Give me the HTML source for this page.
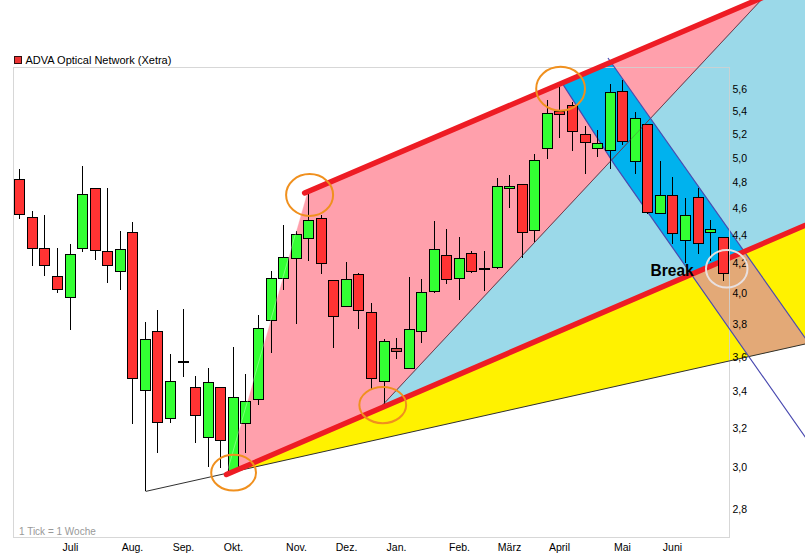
<!DOCTYPE html>
<html><head><meta charset="utf-8"><style>
html,body{margin:0;padding:0;background:#fff;width:805px;height:560px;overflow:hidden}
svg{display:block}
text{font-family:"Liberation Sans",sans-serif}
</style></head><body>
<svg width="805" height="560" viewBox="0 0 805 560">
<rect width="805" height="560" fill="#fff"/>
<polygon points="226.40,474.56 307.50,191.85 764.00,-3.08 379.03,408.84" fill="#FFA0AC"/>
<polygon points="379.03,408.84 779.81,-20.00 820.00,-20.00 820.00,218.96" fill="#9BD9E9"/>
<polygon points="226.40,474.56 820.00,218.96 820.00,340.69 226.40,473.36" fill="#FFF200"/>
<polygon points="562.12,83.13 610.96,62.27 744.27,251.57 691.31,274.37 615,165.4" fill="#00B2EE"/>
<polygon points="691.31,274.37 744.27,251.57 808.80,343.20 748.89,356.59" fill="#E3A977"/>
<rect x="13.5" y="67.5" width="716" height="470" fill="none" stroke="#D0D0D0" stroke-opacity="0.85" stroke-width="1"/>
<line x1="145.7" y1="491.4" x2="820" y2="340.69" stroke="#303030" stroke-width="1"/>
<line x1="379.03" y1="408.84" x2="764.00" y2="-3.08" stroke="#704050" stroke-width="1"/>
<polyline points="562.12,83.13 615,165.4 820,458.14" fill="none" stroke="#4A4AB0" stroke-width="1.2"/>
<line x1="607.96" y1="58" x2="820" y2="359.10" stroke="#4A4AB0" stroke-width="1.2"/>
<g stroke="#000" stroke-width="1" shape-rendering="crispEdges">
<line x1="19.5" y1="169" x2="19.5" y2="179"/>
<line x1="19.5" y1="214" x2="19.5" y2="219"/>
<rect x="14.5" y="179" width="10" height="35" fill="#FF3333"/>
<line x1="32.5" y1="211" x2="32.5" y2="217.5"/>
<line x1="32.5" y1="248" x2="32.5" y2="265.5"/>
<rect x="27.5" y="217.5" width="10" height="30.5" fill="#FF3333"/>
<line x1="44.5" y1="215" x2="44.5" y2="248"/>
<line x1="44.5" y1="265.5" x2="44.5" y2="275.5"/>
<rect x="39.5" y="248" width="10" height="17.5" fill="#FF3333"/>
<line x1="57.5" y1="248" x2="57.5" y2="276"/>
<line x1="57.5" y1="289.5" x2="57.5" y2="292.5"/>
<rect x="52.5" y="276" width="10" height="13.5" fill="#FF3333"/>
<line x1="70.5" y1="244" x2="70.5" y2="254"/>
<line x1="70.5" y1="297.5" x2="70.5" y2="329.5"/>
<rect x="65.5" y="254" width="10" height="43.5" fill="#33FF33"/>
<line x1="82.5" y1="166" x2="82.5" y2="194"/>
<line x1="82.5" y1="248" x2="82.5" y2="251.5"/>
<rect x="77.5" y="194" width="10" height="54" fill="#33FF33"/>
<line x1="95.5" y1="250.5" x2="95.5" y2="259.5"/>
<rect x="90.5" y="188" width="10" height="62.5" fill="#FF3333"/>
<line x1="107.5" y1="188" x2="107.5" y2="251"/>
<line x1="107.5" y1="265.5" x2="107.5" y2="282.5"/>
<rect x="102.5" y="251" width="10" height="14.5" fill="#FF3333"/>
<line x1="120.5" y1="231" x2="120.5" y2="249"/>
<line x1="120.5" y1="271.5" x2="120.5" y2="289.5"/>
<rect x="115.5" y="249" width="10" height="22.5" fill="#33FF33"/>
<line x1="132.5" y1="222" x2="132.5" y2="232.5"/>
<line x1="132.5" y1="378" x2="132.5" y2="423.5"/>
<rect x="127.5" y="232.5" width="10" height="145.5" fill="#FF3333"/>
<line x1="145.5" y1="322" x2="145.5" y2="339.5"/>
<line x1="145.5" y1="390.5" x2="145.5" y2="491.4"/>
<rect x="140.5" y="339.5" width="10" height="51.0" fill="#33FF33"/>
<line x1="157.5" y1="310" x2="157.5" y2="331"/>
<line x1="157.5" y1="422.5" x2="157.5" y2="452.5"/>
<rect x="152.5" y="331" width="10" height="91.5" fill="#FF3333"/>
<line x1="170.5" y1="354" x2="170.5" y2="381"/>
<line x1="170.5" y1="418" x2="170.5" y2="422.5"/>
<rect x="165.5" y="381" width="10" height="37" fill="#33FF33"/>
<line x1="183.5" y1="309" x2="183.5" y2="362"/>
<line x1="183.5" y1="362" x2="183.5" y2="377"/>
<line x1="178.0" y1="362" x2="189.0" y2="362" stroke-width="2"/>
<line x1="195.5" y1="376" x2="195.5" y2="387.5"/>
<line x1="195.5" y1="415.5" x2="195.5" y2="442.5"/>
<rect x="190.5" y="387.5" width="10" height="28.0" fill="#FF3333"/>
<line x1="208.5" y1="368" x2="208.5" y2="382.5"/>
<line x1="208.5" y1="437" x2="208.5" y2="467"/>
<rect x="203.5" y="382.5" width="10" height="54.5" fill="#33FF33"/>
<line x1="220.5" y1="440.5" x2="220.5" y2="467.5"/>
<rect x="215.5" y="387.5" width="10" height="53.0" fill="#FF3333"/>
<line x1="233.5" y1="347" x2="233.5" y2="397.5"/>
<rect x="228.5" y="397.5" width="10" height="73.5" fill="#33FF33"/>
<line x1="245.5" y1="374" x2="245.5" y2="401.75"/>
<line x1="245.5" y1="423" x2="245.5" y2="452.5"/>
<rect x="240.5" y="401.75" width="10" height="21.25" fill="#33FF33"/>
<line x1="258.5" y1="315" x2="258.5" y2="328"/>
<line x1="258.5" y1="399" x2="258.5" y2="404.5"/>
<rect x="253.5" y="328" width="10" height="71" fill="#33FF33"/>
<line x1="271.5" y1="271" x2="271.5" y2="278"/>
<line x1="271.5" y1="320.5" x2="271.5" y2="352.5"/>
<rect x="266.5" y="278" width="10" height="42.5" fill="#33FF33"/>
<line x1="283.5" y1="225" x2="283.5" y2="257.5"/>
<line x1="283.5" y1="278" x2="283.5" y2="289.5"/>
<rect x="278.5" y="257.5" width="10" height="20.5" fill="#33FF33"/>
<line x1="296.5" y1="231" x2="296.5" y2="234.5"/>
<line x1="296.5" y1="258" x2="296.5" y2="323.75"/>
<rect x="291.5" y="234.5" width="10" height="23.5" fill="#33FF33"/>
<line x1="308.5" y1="192.3" x2="308.5" y2="220"/>
<line x1="308.5" y1="238" x2="308.5" y2="260.5"/>
<rect x="303.5" y="220" width="10" height="18" fill="#33FF33"/>
<line x1="321.5" y1="215" x2="321.5" y2="218"/>
<line x1="321.5" y1="263" x2="321.5" y2="273.5"/>
<rect x="316.5" y="218" width="10" height="45" fill="#FF3333"/>
<line x1="333.5" y1="316" x2="333.5" y2="347.9"/>
<rect x="328.5" y="280.4" width="10" height="35.60000000000002" fill="#FF3333"/>
<line x1="346.5" y1="262.3" x2="346.5" y2="279.5"/>
<rect x="341.5" y="279.5" width="10" height="26.69999999999999" fill="#33FF33"/>
<line x1="358.5" y1="273" x2="358.5" y2="274.5"/>
<line x1="358.5" y1="310.2" x2="358.5" y2="328.7"/>
<rect x="353.5" y="274.5" width="10" height="35.69999999999999" fill="#FF3333"/>
<line x1="371.5" y1="303" x2="371.5" y2="312.5"/>
<line x1="371.5" y1="378.25" x2="371.5" y2="388.75"/>
<rect x="366.5" y="312.5" width="10" height="65.75" fill="#FF3333"/>
<line x1="384.5" y1="339" x2="384.5" y2="341.5"/>
<line x1="384.5" y1="381.25" x2="384.5" y2="405"/>
<rect x="379.5" y="341.5" width="10" height="39.75" fill="#33FF33"/>
<line x1="396.5" y1="338" x2="396.5" y2="348.5"/>
<line x1="396.5" y1="351.5" x2="396.5" y2="358.75"/>
<rect x="391.5" y="348.5" width="10" height="3.0" fill="#C85050"/>
<line x1="409.5" y1="277" x2="409.5" y2="329.25"/>
<rect x="404.5" y="329.25" width="10" height="39.0" fill="#33FF33"/>
<line x1="421.5" y1="278.75" x2="421.5" y2="292.5"/>
<line x1="421.5" y1="331.25" x2="421.5" y2="342.5"/>
<rect x="416.5" y="292.5" width="10" height="38.75" fill="#33FF33"/>
<line x1="434.5" y1="221.25" x2="434.5" y2="249.5"/>
<line x1="434.5" y1="291.75" x2="434.5" y2="292.5"/>
<rect x="429.5" y="249.5" width="10" height="42.25" fill="#33FF33"/>
<line x1="446.5" y1="228.75" x2="446.5" y2="255.5"/>
<line x1="446.5" y1="279.25" x2="446.5" y2="283.75"/>
<rect x="441.5" y="255.5" width="10" height="23.75" fill="#FF3333"/>
<line x1="459.5" y1="237" x2="459.5" y2="258.25"/>
<line x1="459.5" y1="278.25" x2="459.5" y2="300"/>
<rect x="454.5" y="258.25" width="10" height="20.0" fill="#33FF33"/>
<line x1="471.5" y1="251.25" x2="471.5" y2="253.25"/>
<line x1="471.5" y1="271.25" x2="471.5" y2="273"/>
<rect x="466.5" y="253.25" width="10" height="18.0" fill="#FF3333"/>
<line x1="484.5" y1="250.75" x2="484.5" y2="268.75"/>
<line x1="484.5" y1="268.75" x2="484.5" y2="290.75"/>
<line x1="479.0" y1="268.75" x2="490.0" y2="268.75" stroke-width="2"/>
<line x1="497.5" y1="177.5" x2="497.5" y2="186.5"/>
<line x1="497.5" y1="267.5" x2="497.5" y2="268.75"/>
<rect x="492.5" y="186.5" width="10" height="81.0" fill="#33FF33"/>
<line x1="509.5" y1="174.5" x2="509.5" y2="186.25"/>
<line x1="509.5" y1="188.25" x2="509.5" y2="207.5"/>
<rect x="504.5" y="186.25" width="10" height="2.0" fill="#33FF33"/>
<line x1="522.5" y1="232.6" x2="522.5" y2="257.8"/>
<rect x="517.5" y="184.6" width="10" height="48.0" fill="#FF3333"/>
<line x1="534.5" y1="154" x2="534.5" y2="160.4"/>
<line x1="534.5" y1="230" x2="534.5" y2="242.4"/>
<rect x="529.5" y="160.4" width="10" height="69.6" fill="#33FF33"/>
<line x1="547.5" y1="100.3" x2="547.5" y2="113.1"/>
<line x1="547.5" y1="148.75" x2="547.5" y2="159.4"/>
<rect x="542.5" y="113.1" width="10" height="35.650000000000006" fill="#33FF33"/>
<line x1="559.5" y1="87.3" x2="559.5" y2="111.5"/>
<line x1="559.5" y1="114.4" x2="559.5" y2="137.5"/>
<rect x="554.5" y="111.5" width="10" height="2.9000000000000057" fill="#FF3333"/>
<line x1="572.5" y1="101.8" x2="572.5" y2="105.5"/>
<line x1="572.5" y1="131.25" x2="572.5" y2="150.5"/>
<rect x="567.5" y="105.5" width="10" height="25.75" fill="#FF3333"/>
<line x1="585.5" y1="126.2" x2="585.5" y2="134.5"/>
<line x1="585.5" y1="142.5" x2="585.5" y2="173.75"/>
<rect x="580.5" y="134.5" width="10" height="8.0" fill="#FF3333"/>
<line x1="597.5" y1="130" x2="597.5" y2="143.75"/>
<line x1="597.5" y1="148.75" x2="597.5" y2="157"/>
<rect x="592.5" y="143.75" width="10" height="5.0" fill="#33FF33"/>
<line x1="610.5" y1="83.75" x2="610.5" y2="92.5"/>
<line x1="610.5" y1="150.5" x2="610.5" y2="168.75"/>
<rect x="605.5" y="92.5" width="10" height="58.0" fill="#33FF33"/>
<line x1="622.5" y1="80" x2="622.5" y2="91.75"/>
<line x1="622.5" y1="141.25" x2="622.5" y2="145"/>
<rect x="617.5" y="91.75" width="10" height="49.5" fill="#FF3333"/>
<line x1="635.5" y1="112" x2="635.5" y2="118.25"/>
<line x1="635.5" y1="161.25" x2="635.5" y2="173.75"/>
<rect x="630.5" y="118.25" width="10" height="43.0" fill="#33FF33"/>
<line x1="647.5" y1="212.1" x2="647.5" y2="214.3"/>
<rect x="642.5" y="124.3" width="10" height="87.8" fill="#FF3333"/>
<line x1="660.5" y1="161.1" x2="660.5" y2="195.4"/>
<rect x="655.5" y="195.4" width="10" height="17.799999999999983" fill="#33FF33"/>
<line x1="672.5" y1="177.2" x2="672.5" y2="195.4"/>
<line x1="672.5" y1="233" x2="672.5" y2="243.75"/>
<rect x="667.5" y="195.4" width="10" height="37.599999999999994" fill="#FF3333"/>
<line x1="685.5" y1="198.2" x2="685.5" y2="215.2"/>
<line x1="685.5" y1="240" x2="685.5" y2="262.5"/>
<rect x="680.5" y="215.2" width="10" height="24.80000000000001" fill="#33FF33"/>
<line x1="698.5" y1="187.5" x2="698.5" y2="197.3"/>
<line x1="698.5" y1="243.1" x2="698.5" y2="254.3"/>
<rect x="693.5" y="197.3" width="10" height="45.79999999999998" fill="#FF3333"/>
<line x1="710.5" y1="220" x2="710.5" y2="229.6"/>
<line x1="710.5" y1="232.9" x2="710.5" y2="261.4"/>
<rect x="705.5" y="229.6" width="10" height="3.3000000000000114" fill="#33FF33"/>
</g>
<line x1="226.40" y1="474.56" x2="307.50" y2="191.85" stroke="#FFFFFF" stroke-opacity="0.35" stroke-width="1"/>
<line x1="379.03" y1="408.84" x2="764.00" y2="-3.08" stroke="#704050" stroke-opacity="0.35" stroke-width="1"/>
<line x1="304.6" y1="192.9" x2="794.00" y2="-15.89" stroke="#EE1C24" stroke-width="5.4" stroke-linecap="round"/>
<line x1="226.4" y1="474.56314" x2="820" y2="218.96" stroke="#EE1C24" stroke-width="5.4" stroke-linecap="round"/>
<line x1="729.5" y1="200" x2="729.5" y2="300" stroke="#D0D0D0" stroke-opacity="0.85" stroke-width="1"/>
<g stroke="#000" stroke-width="1" shape-rendering="crispEdges">
<line x1="723.5" y1="273.3" x2="723.5" y2="281.4"/>
<rect x="718.5" y="237.1" width="10" height="36.20000000000002" fill="#FF3333"/>
</g>
<g font-size="10.5" fill="#000">
<text x="732.5" y="93.0">5,6</text>
<text x="732.5" y="115.0">5,4</text>
<text x="732.5" y="137.9">5,2</text>
<text x="732.5" y="161.6">5,0</text>
<text x="732.5" y="186.4">4,8</text>
<text x="732.5" y="212.2">4,6</text>
<text x="732.5" y="239.1">4,4</text>
<text x="732.5" y="267.3">4,2</text>
<text x="732.5" y="296.9">4,0</text>
<text x="732.5" y="327.9">3,8</text>
<text x="732.5" y="360.7">3,6</text>
<text x="732.5" y="395.3">3,4</text>
<text x="732.5" y="432.1">3,2</text>
<text x="732.5" y="471.2">3,0</text>
<text x="732.5" y="513.0">2,8</text>
</g>
<ellipse cx="233.6" cy="472.7" rx="22.4" ry="17.9" fill="none" stroke="#F0901E" stroke-width="2"/>
<ellipse cx="309.6" cy="195" rx="23.5" ry="20.9" fill="none" stroke="#F0901E" stroke-width="2"/>
<ellipse cx="382.75" cy="405.1" rx="23.4" ry="18.1" fill="none" stroke="#F0901E" stroke-width="2"/>
<ellipse cx="560.6" cy="88.75" rx="24.4" ry="21.9" fill="none" stroke="#F0901E" stroke-width="2"/>
<ellipse cx="726.75" cy="268.75" rx="20.75" ry="18.75" fill="none" stroke="#E8E0E0" stroke-width="2"/>
<rect x="14.5" y="56.5" width="7" height="7" fill="#EE3333" stroke="#301010" stroke-width="1"/>
<text x="25.5" y="64" font-size="11" fill="#000">ADVA Optical Network (Xetra)</text>
<text x="19" y="534.5" font-size="10" fill="#999">1 Tick = 1 Woche</text>
<g font-size="10.5" fill="#000">
<text x="70.5" y="551" text-anchor="middle">Juli</text>
<text x="132.5" y="551" text-anchor="middle">Aug.</text>
<text x="183.5" y="551" text-anchor="middle">Sep.</text>
<text x="233.5" y="551" text-anchor="middle">Okt.</text>
<text x="296.5" y="551" text-anchor="middle">Nov.</text>
<text x="346.5" y="551" text-anchor="middle">Dez.</text>
<text x="396.5" y="551" text-anchor="middle">Jan.</text>
<text x="459.5" y="551" text-anchor="middle">Feb.</text>
<text x="509.5" y="551" text-anchor="middle">März</text>
<text x="559.5" y="551" text-anchor="middle">April</text>
<text x="622.5" y="551" text-anchor="middle">Mai</text>
<text x="672.5" y="551" text-anchor="middle">Juni</text>
</g>
<text transform="translate(650.6,275.6) scale(1,1.12)" font-size="15.5" font-weight="bold" fill="#000">Break</text>
</svg>
</body></html>
